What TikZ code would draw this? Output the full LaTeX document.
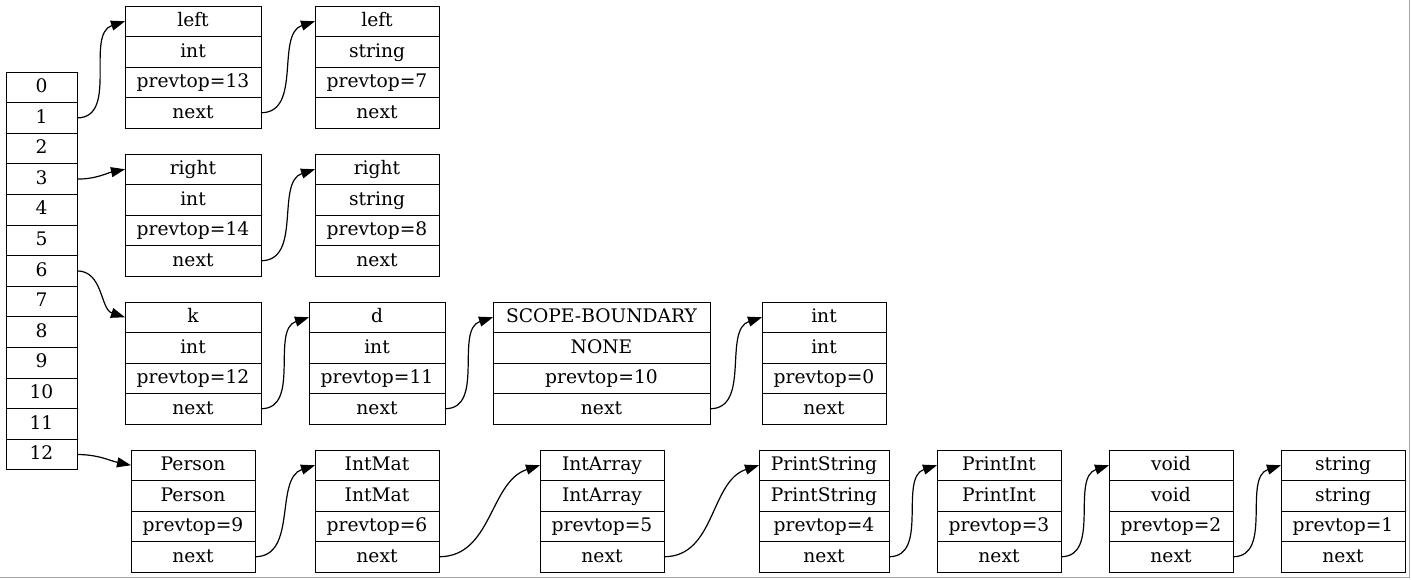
\documentclass[tikz,border=0pt]{standalone}
\usepackage{fontspec}
\setmainfont{DejaVu Serif}
\usetikzlibrary{arrows.meta}
\tikzset{
  cell/.style={draw, line width=1pt, inner sep=0pt, outer sep=0pt, minimum height=30.5pt,
    text height=12pt, text depth=1.5pt, font=\fontsize{18.67}{22}\selectfont},
  edge/.style={line width=1.2pt, -{Triangle[length=14pt,width=10pt]}},
  up/.style={out=0,in=198},
  down/.style={out=0,in=162},
}
\newcommand\myrecord[8]{%
  \node[cell,minimum width=#4,anchor=north west] (#1-1) at (#2,#3) {#5};
  \node[cell,minimum width=#4,anchor=north] (#1-2) at (#1-1.south) {#6};
  \node[cell,minimum width=#4,anchor=north] (#1-3) at (#1-2.south) {#7};
  \node[cell,minimum width=#4,anchor=north] (#1-4) at (#1-3.south) {#8};
}
\begin{document}
\begin{tikzpicture}[x=1pt,y=-1pt]
\useasboundingbox (0,0) rectangle (1411,579);
\draw[black!35, line width=1.5pt] (0,577.5) -- (1409.5,577.5) -- (1409.5,0);
% stack array
\foreach \i in {0,...,12}{
  \node[cell,minimum width=71,minimum height=30.6pt,anchor=north west] (a\i) at (6,72+30.6*\i) {\i};
}
% records
\myrecord{L}{125}{6}{136}{left}{int}{prevtop=13}{next}
\myrecord{LS}{315}{6}{124}{left}{string}{prevtop=7}{next}
\myrecord{R}{125}{154}{136}{right}{int}{prevtop=14}{next}
\myrecord{RS}{315}{154}{124}{right}{string}{prevtop=8}{next}
\myrecord{K}{125}{302}{136}{k}{int}{prevtop=12}{next}
\myrecord{D}{309}{302}{136}{d}{int}{prevtop=11}{next}
\myrecord{SB}{493}{302}{217}{SCOPE-BOUNDARY}{NONE}{prevtop=10}{next}
\myrecord{I}{762}{302}{124}{int}{int}{prevtop=0}{next}
\myrecord{P}{131}{450}{124}{Person}{Person}{prevtop=9}{next}
\myrecord{IM}{315}{450}{124}{IntMat}{IntMat}{prevtop=6}{next}
\myrecord{IA}{540}{450}{124}{IntArray}{IntArray}{prevtop=5}{next}
\myrecord{PS}{759}{450}{130}{PrintString}{PrintString}{prevtop=4}{next}
\myrecord{PI}{937}{450}{124}{PrintInt}{PrintInt}{prevtop=3}{next}
\myrecord{V}{1109}{450}{124}{void}{void}{prevtop=2}{next}
\myrecord{S}{1281}{450}{124}{string}{string}{prevtop=1}{next}
% edges from stack
\draw[edge] (a1.east) to[up] (L-1.west);
\draw[edge] (a3.east) to[out=0,in=192] (R-1.west);
\draw[edge] (a6.east) to[down] (K-1.west);
\draw[edge] (a12.east) to[out=0,in=168] (P-1.west);
% chain edges
\foreach \s/\t in {L/LS,R/RS,K/D,D/SB,SB/I,P/IM,IM/IA,IA/PS,PS/PI,PI/V,V/S}{
  \draw[edge] (\s-4.east) to[up] (\t-1.west);
}
\end{tikzpicture}
\end{document}
